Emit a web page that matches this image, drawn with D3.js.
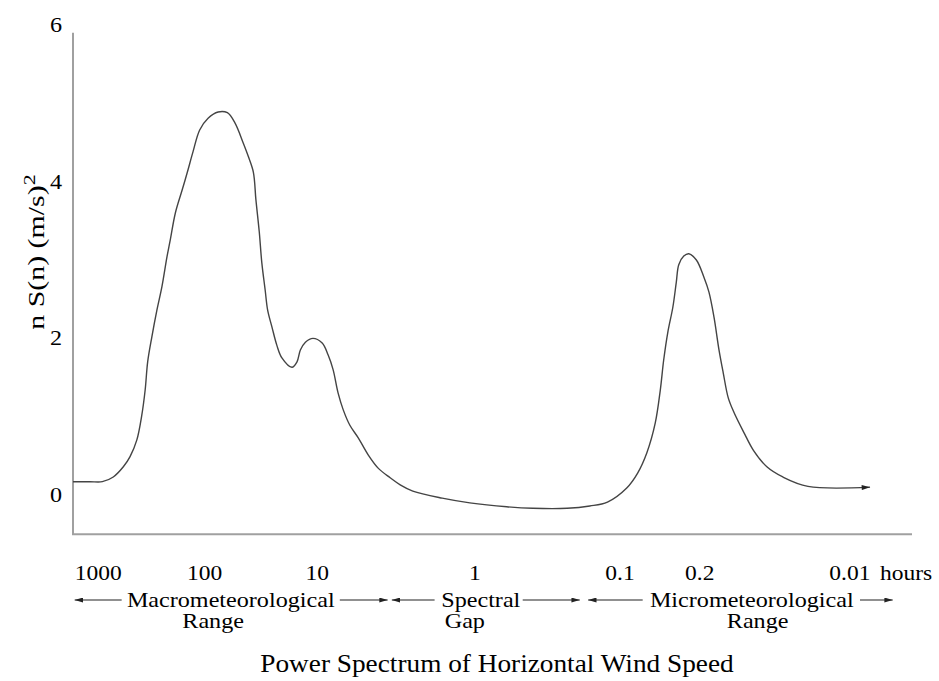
<!DOCTYPE html>
<html>
<head>
<meta charset="utf-8">
<title>Power Spectrum of Horizontal Wind Speed</title>
<script src="https://cdn.jsdelivr.net/npm/d3@7"></script>
<style>
  body { margin: 0; background: #fff; }
  svg text { font-family: "Liberation Serif", "Times New Roman", Times, "DejaVu Serif", serif; fill: #000; }
</style>
</head>
<body>
<div id="svg_container"></div>
<script>
// position along the period axis (0 = left end, 100 = right end)
var curvePos = [0, 2.0, 3.5, 4.8, 6.0, 6.8, 7.6, 8.2, 8.6, 8.9, 9.4, 10.0, 10.6, 11.2, 11.6, 12.2, 13.0, 13.6, 14.3, 15.1, 16.1,
  17.3, 18.4, 19.3, 20.3, 20.9, 21.5, 21.8, 22.2, 22.5, 22.9, 23.2, 23.7, 24.3, 24.9, 26.1, 26.7, 27.1, 27.7, 28.6, 29.7,
  30.4, 31.0, 31.6, 32.2, 33.0, 34.0, 35.2, 36.4, 37.8, 39.0, 40.5, 44.0, 47.3, 51.7, 54.8, 58.9, 61.6, 63.7, 66.0, 67.3,
  68.4, 69.4, 70.0, 70.4, 70.9, 71.5, 71.9, 72.2, 72.8, 73.4, 74.3, 75.2, 75.8, 76.4, 77.0, 77.5, 78.1, 78.8, 80.0, 81.1,
  82.7, 84.6, 87.6, 95.0];
// n S(n) in (m/s)^2
var curveVal = [0.17, 0.17, 0.17, 0.23, 0.36, 0.49, 0.70, 1.02, 1.34, 1.70, 2.02, 2.36, 2.66, 3.04, 3.26, 3.60, 3.89, 4.11, 4.38, 4.66, 4.81,
  4.89, 4.88, 4.75, 4.49, 4.32, 4.12, 3.77, 3.36, 2.97, 2.62, 2.36, 2.15, 1.91, 1.75, 1.63, 1.70, 1.85, 1.95, 2.00, 1.94,
  1.79, 1.60, 1.30, 1.09, 0.89, 0.73, 0.51, 0.34, 0.22, 0.13, 0.05, -0.04, -0.10, -0.15, -0.17, -0.17, -0.14, -0.09, 0.09, 0.28,
  0.54, 0.92, 1.34, 1.72, 2.08, 2.40, 2.71, 2.94, 3.05, 3.08, 3.00, 2.78, 2.59, 2.27, 1.85, 1.56, 1.24, 1.05, 0.79, 0.57,
  0.36, 0.23, 0.11, 0.10];

var yTicks = [0, 2, 4, 6];
var xTickLabels = ["1000", "100", "10", "1", "0.1", "0.2", "0.01", "hours"];
var xTickPos = [3.0, 15.7, 29.1, 47.9, 65.2, 74.7, 92.6, 99.3];

var rangeNames = ["Macrometeorological", "Spectral", "Micrometeorological"];
var rangeNamePos = [18.8, 48.6, 80.9];
var rangeSub = ["Range", "Gap", "Range"];
var rangeSubPos = [16.7, 46.7, 81.6];
// arrows: [tail, head]
var rangeArrows = [[5.8, 0.2], [31.8, 37.5], [43.1, 38.0], [53.6, 60.4], [67.9, 61.4], [93.8, 97.7]];

var titleText = "Power Spectrum of Horizontal Wind Speed";

var W = 939, H = 681;
var svgContainer = d3.select("#svg_container").append("svg")
  .attr("width", W).attr("height", H);

var x = d3.scaleLinear().domain([0, 100]).range([73, 912]);
var y = d3.scaleLinear().domain([0, 6]).range([495, 25]);

var defs = svgContainer.append("defs");
defs.append("marker")
  .attr("id", "head")
  .attr("viewBox", "0 0 10 6")
  .attr("refX", 10).attr("refY", 3)
  .attr("markerWidth", 9).attr("markerHeight", 5)
  .attr("markerUnits", "userSpaceOnUse")
  .attr("orient", "auto")
  .append("path").attr("d", "M0,0 L10,3 L0,6 Z").attr("fill", "#222");

// frame: left and bottom axis lines
svgContainer.append("line")
  .attr("x1", x(0)).attr("y1", y(5.9))
  .attr("x2", x(0)).attr("y2", y(-0.5))
  .attr("stroke", "#a0a0a0").attr("stroke-width", 2);
svgContainer.append("line")
  .attr("x1", x(0) - 1).attr("y1", y(-0.5))
  .attr("x2", x(100)).attr("y2", y(-0.5))
  .attr("stroke", "#a0a0a0").attr("stroke-width", 2);

function stretched(sel, px, py, sx) {
  return sel.attr("transform", "translate(" + px + "," + py + ") scale(" + sx + ",1)");
}

yTicks.forEach(function(v) {
  stretched(svgContainer.append("text"), 56, y(v) + 7, 1.15)
    .attr("text-anchor", "middle")
    .style("font-size", "21px")
    .text(v);
});

var yl = svgContainer.append("text")
  .attr("transform", "translate(44,252) rotate(-90) scale(1.3,1)")
  .attr("text-anchor", "middle")
  .style("font-size", "23px");
yl.append("tspan").text("n S(n) (m/s)");
yl.append("tspan").attr("dy", -9).style("font-size", "17px").text("2");

var line = d3.line()
  .x(function(d) { return x(d[0]); })
  .y(function(d) { return y(d[1]); })
  .curve(d3.curveCatmullRom.alpha(0.5));

svgContainer.append("path")
  .datum(d3.zip(curvePos, curveVal))
  .attr("d", line)
  .attr("fill", "none")
  .attr("stroke", "#444")
  .attr("stroke-width", 1.4)
  .attr("marker-end", "url(#head)");

xTickLabels.forEach(function(t, i) {
  stretched(svgContainer.append("text"), x(xTickPos[i]), 580, 1.12)
    .attr("text-anchor", "middle")
    .style("font-size", "21px")
    .text(t);
});

rangeNames.forEach(function(t, i) {
  stretched(svgContainer.append("text"), x(rangeNamePos[i]), 607, 1.15)
    .attr("text-anchor", "middle")
    .style("font-size", "21px")
    .text(t);
  stretched(svgContainer.append("text"), x(rangeSubPos[i]), 628, 1.15)
    .attr("text-anchor", "middle")
    .style("font-size", "21px")
    .text(rangeSub[i]);
});

rangeArrows.forEach(function(a) {
  svgContainer.append("line")
    .attr("x1", x(a[0])).attr("y1", 600)
    .attr("x2", x(a[1])).attr("y2", 600)
    .attr("stroke", "#222").attr("stroke-width", 1.2)
    .attr("marker-end", "url(#head)");
});

stretched(svgContainer.append("text"), 497, 672, 1.05)
  .attr("text-anchor", "middle")
  .style("font-size", "26px")
  .text(titleText);
</script>
</body>
</html>
